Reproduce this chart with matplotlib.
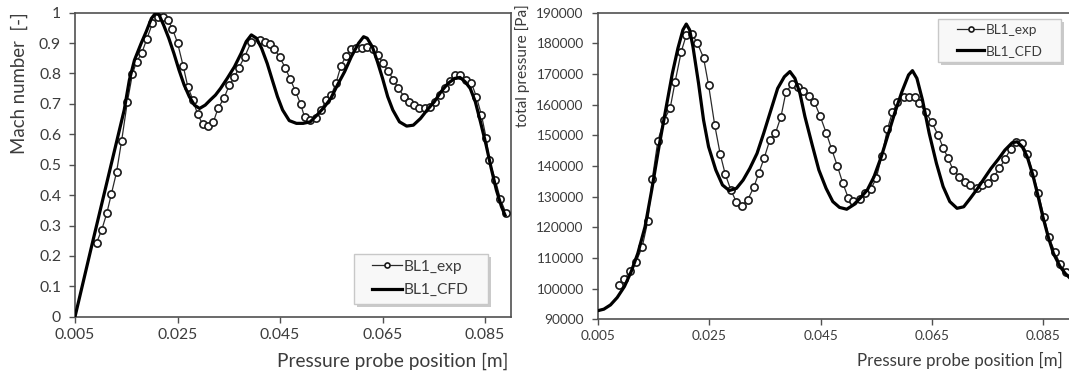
import numpy as np
import matplotlib
matplotlib.use('Agg')
import matplotlib.pyplot as plt
from matplotlib.ticker import FuncFormatter
from matplotlib.patches import Rectangle

# ── Data: Mach number (left) ─────────────────────────────────
mach_exp_x = [0.0092, 0.0102, 0.0112, 0.0121, 0.0131, 0.0141, 0.0152, 0.0162, 0.0170, 0.0180,
              0.0190, 0.0201, 0.0211, 0.0222, 0.0231, 0.0240, 0.0250, 0.0261, 0.0270, 0.0280,
              0.0289, 0.0299, 0.0309, 0.0320, 0.0329, 0.0341, 0.0351, 0.0361, 0.0369, 0.0381,
              0.0394, 0.0411, 0.0421, 0.0431, 0.0439, 0.0449, 0.0460, 0.0470, 0.0480, 0.0490,
              0.0498, 0.0509, 0.0520, 0.0530, 0.0540, 0.0550, 0.0559, 0.0569, 0.0579, 0.0589,
              0.0599, 0.0610, 0.0620, 0.0631, 0.0641, 0.0651, 0.0661, 0.0671, 0.0681, 0.0692,
              0.0702, 0.0712, 0.0722, 0.0732, 0.0742, 0.0752, 0.0762, 0.0772, 0.0782, 0.0792,
              0.0802, 0.0813, 0.0823, 0.0833, 0.0843, 0.0852, 0.0858, 0.0870, 0.0880, 0.0891]
mach_exp_y = [0.243, 0.285, 0.340, 0.404, 0.475, 0.579, 0.705, 0.798, 0.839, 0.866,
              0.913, 0.965, 0.985, 0.987, 0.976, 0.948, 0.901, 0.825, 0.757, 0.713,
              0.667, 0.633, 0.627, 0.641, 0.685, 0.720, 0.762, 0.787, 0.817, 0.855,
              0.905, 0.910, 0.905, 0.896, 0.880, 0.855, 0.819, 0.781, 0.742, 0.700,
              0.656, 0.647, 0.652, 0.680, 0.713, 0.729, 0.768, 0.826, 0.859, 0.879,
              0.885, 0.885, 0.888, 0.879, 0.861, 0.833, 0.809, 0.779, 0.751, 0.724,
              0.707, 0.696, 0.688, 0.685, 0.691, 0.707, 0.729, 0.751, 0.775, 0.795,
              0.795, 0.779, 0.770, 0.724, 0.663, 0.589, 0.515, 0.450, 0.386, 0.340]

mach_cfd_x = [0.0050, 0.0084, 0.0146, 0.0156, 0.0166, 0.0179, 0.0189, 0.0199, 0.0207, 0.0214,
              0.0223, 0.0233, 0.0243, 0.0253, 0.0263, 0.0273, 0.0283, 0.0293, 0.0304, 0.0314,
              0.0324, 0.0334, 0.0347, 0.0361, 0.0374, 0.0384, 0.0394, 0.0404, 0.0414, 0.0425,
              0.0435, 0.0445, 0.0455, 0.0468, 0.0482, 0.0495, 0.0509, 0.0522, 0.0536, 0.0549,
              0.0562, 0.0576, 0.0589, 0.0603, 0.0613, 0.0620, 0.0630, 0.0640, 0.0650, 0.0660,
              0.0670, 0.0683, 0.0697, 0.0710, 0.0724, 0.0737, 0.0751, 0.0764, 0.0778, 0.0791,
              0.0801, 0.0811, 0.0821, 0.0831, 0.0841, 0.0852, 0.0862, 0.0872, 0.0882, 0.0889]
mach_cfd_y = [0.000, 0.243, 0.680, 0.778, 0.844, 0.899, 0.938, 0.981, 0.998, 0.993,
              0.959, 0.916, 0.866, 0.811, 0.762, 0.724, 0.696, 0.685, 0.696, 0.713,
              0.729, 0.751, 0.784, 0.822, 0.866, 0.905, 0.927, 0.916, 0.883, 0.833,
              0.778, 0.724, 0.680, 0.645, 0.636, 0.636, 0.641, 0.663, 0.689, 0.718,
              0.762, 0.806, 0.855, 0.899, 0.921, 0.916, 0.888, 0.839, 0.784, 0.724,
              0.680, 0.641, 0.627, 0.630, 0.652, 0.680, 0.707, 0.740, 0.768, 0.784,
              0.787, 0.773, 0.751, 0.707, 0.641, 0.565, 0.488, 0.417, 0.362, 0.334]

# ── Data: total pressure (right) ─────────────────────────────
p_exp_x = [0.0088, 0.0098, 0.0108, 0.0119, 0.0130, 0.0140, 0.0148, 0.0158, 0.0169, 0.0180,
           0.0189, 0.0200, 0.0209, 0.0220, 0.0229, 0.0240, 0.0249, 0.0260, 0.0270, 0.0279,
           0.0289, 0.0299, 0.0309, 0.0319, 0.0330, 0.0339, 0.0349, 0.0359, 0.0369, 0.0379,
           0.0388, 0.0399, 0.0409, 0.0419, 0.0430, 0.0439, 0.0449, 0.0460, 0.0470, 0.0480,
           0.0490, 0.0500, 0.0509, 0.0520, 0.0529, 0.0540, 0.0550, 0.0560, 0.0570, 0.0579,
           0.0588, 0.0599, 0.0608, 0.0619, 0.0627, 0.0639, 0.0650, 0.0661, 0.0670, 0.0679,
           0.0688, 0.0699, 0.0709, 0.0719, 0.0730, 0.0740, 0.0750, 0.0761, 0.0771, 0.0781,
           0.0791, 0.0800, 0.0812, 0.0821, 0.0831, 0.0841, 0.0851, 0.0860, 0.0871, 0.0880,
           0.0891]
p_exp_y = [101200, 103000, 105900, 108800, 113700, 122100, 135800, 148200, 155000, 158800,
           167500, 177300, 182700, 182900, 180000, 175300, 166400, 153400, 143800, 137300,
           132200, 128200, 127100, 128900, 133000, 137600, 142700, 148500, 150700, 156100,
           164200, 166600, 165700, 164600, 162800, 160800, 156400, 150900, 145500, 140100,
           134400, 129500, 128600, 129100, 131100, 132400, 136000, 143300, 152000, 157500,
           160800, 162600, 162600, 162600, 160400, 157500, 154200, 150100, 146000, 142500,
           138700, 136500, 134900, 133800, 132900, 133800, 134600, 136500, 139200, 142200,
           145500, 147700, 147400, 143900, 137800, 131100, 123500, 116700, 111800, 108000,
           105500]

p_cfd_x = [0.0050, 0.0061, 0.0073, 0.0085, 0.0098, 0.0110, 0.0122, 0.0135, 0.0147, 0.0160,
           0.0172, 0.0184, 0.0194, 0.0203, 0.0209, 0.0215, 0.0221, 0.0231, 0.0240, 0.0249,
           0.0262, 0.0274, 0.0286, 0.0299, 0.0311, 0.0323, 0.0336, 0.0348, 0.0361, 0.0373,
           0.0385, 0.0395, 0.0404, 0.0413, 0.0422, 0.0435, 0.0447, 0.0460, 0.0472, 0.0484,
           0.0497, 0.0509, 0.0521, 0.0534, 0.0546, 0.0559, 0.0571, 0.0583, 0.0596, 0.0608,
           0.0615, 0.0623, 0.0633, 0.0645, 0.0658, 0.0670, 0.0682, 0.0695, 0.0707, 0.0719,
           0.0732, 0.0744, 0.0756, 0.0769, 0.0781, 0.0794, 0.0803, 0.0812, 0.0821, 0.0831,
           0.0840, 0.0849, 0.0859, 0.0868, 0.0880, 0.0889, 0.0898]
p_cfd_y = [92800, 93300, 94700, 97100, 100700, 105500, 111500, 120200, 132200, 146300,
           158300, 170200, 178400, 184400, 186300, 184400, 178900, 167000, 155000, 146300,
           138700, 133800, 132000, 132700, 135400, 139200, 144100, 150700, 158300, 165300,
           169100, 170800, 168600, 163700, 156100, 146900, 138700, 132700, 128400, 126500,
           125900, 127300, 129500, 132200, 136500, 143000, 150100, 157200, 164200, 169700,
           171100, 168600, 161500, 150700, 140900, 133300, 128400, 126200, 126700, 129500,
           132700, 136000, 139200, 142200, 145200, 147600, 147900, 146300, 143000, 137100,
           130500, 123500, 116700, 111500, 107200, 105000, 103400]

x_ticks = [0.005, 0.025, 0.045, 0.065, 0.085]
mach_ticks = [0, 0.1, 0.2, 0.3, 0.4, 0.5, 0.6, 0.7, 0.8, 0.9, 1]
p_ticks = [90000, 100000, 110000, 120000, 130000, 140000, 150000, 160000, 170000, 180000, 190000]
x_label = 'Pressure probe position [m]'

# ── Style ─────────────────────────────────────────────────────
plt.rcParams['font.family'] = ['Lato', 'DejaVu Sans']
TXT = '#3c3c3c'
SPINE = '#505050'
W, H = 1069, 373

fig = plt.figure(figsize=(W / 100, H / 100), dpi=100)
renderer = fig.canvas.get_renderer()
ax1 = fig.add_axes([75 / W, 1 - 316.7 / H, 435.7 / W, 304 / H])
ax2 = fig.add_axes([597.7 / W, 1 - 319.3 / H, (W - 597.7) / W, 306.6 / H])


def fit_size(text, width_px, ref=10):
    # font size that makes `text` about width_px wide
    t = fig.text(0, 0, text, fontsize=ref)
    w = t.get_window_extent(renderer).width
    t.remove()
    return ref * width_px / w


def px(x, y):
    # figure pixel (from top-left) -> figure fraction
    return x / W, 1 - y / H


def style_axis(ax, fs):
    for s in ax.spines.values():
        s.set_color(SPINE)
        s.set_linewidth(1.2)
    ax.tick_params(direction='out', length=4, width=1, color=SPINE,
                   labelcolor=TXT, labelsize=fs)
    ax.tick_params(axis='y', pad=6)
    ax.tick_params(axis='x', pad=4)
    ax.set_xticks(x_ticks)
    ax.xaxis.set_major_formatter(FuncFormatter(lambda v, p: f'{v:.3f}'))


def add_legend(ax, box, handle_x, rows_y, handle_px, text_px):
    # box = (x0, y0, x1, y1) in figure pixels, drawn by hand with a drop shadow
    x0, y0, x1, y1 = box
    fs = fit_size('BL1_CFD', text_px)
    fs_px = fs * 100 / 72
    t = fig.text(0, 0, 'BL1_CFD', fontsize=fs)
    h = t.get_window_extent(renderer).height
    t.remove()
    gap = rows_y[1] - rows_y[0]
    fx0, fy1 = px(x0, y1)
    fx1, fy0 = px(x1, y0)
    ax.add_patch(Rectangle((fx0 + 3 / W, fy1 - 3 / H), fx1 - fx0, fy0 - fy1, transform=fig.transFigure,
                           facecolor='#a8a8a8', edgecolor='none', alpha=0.6, clip_on=False, zorder=6))
    ax.add_patch(Rectangle((fx0, fy1), fx1 - fx0, fy0 - fy1, transform=fig.transFigure,
                           facecolor='#f8f8f8', edgecolor='#c8c8c8', lw=1.0, clip_on=False, zorder=6.1))
    leg = ax.legend(loc='center left', bbox_to_anchor=px(handle_x, sum(rows_y) / 2),
                    bbox_transform=fig.transFigure, fontsize=fs, frameon=False,
                    handlelength=handle_px / fs_px, handletextpad=0.1, markerscale=0.7,
                    borderpad=0, borderaxespad=0, labelspacing=(gap - h) / fs_px)
    leg.set_zorder(7)
    for tx in leg.get_texts():
        tx.set_color(TXT)


# ── Left: Mach number ────────────────────────────────────────
ax1.plot(mach_exp_x, mach_exp_y, '-o', color='#2a2a2a', lw=0.9, ms=5.2,
         mfc='white', mec='#1a1a1a', mew=1.2, label='BL1_exp', zorder=3)
ax1.plot(mach_cfd_x, mach_cfd_y, '-', color='black', lw=2.3, label='BL1_CFD', zorder=4)
ax1.set_xlim(0.005, 0.090)
ax1.set_ylim(0, 1)
style_axis(ax1, fit_size('0.005', 40))
ax1.set_yticks(mach_ticks)
ax1.yaxis.set_major_formatter(FuncFormatter(lambda v, p: f'{v:g}'))
fig.text(*px(508, 361), x_label, ha='right', va='center',
         fontsize=fit_size(x_label, 233), color=TXT)
fig.text(*px(19, 12), 'Mach number  [-]', rotation=90, ha='center', va='top',
         fontsize=fit_size('Mach number  [-]', 142), color=TXT)
add_legend(ax1, (354, 254, 488, 304), 372, (266.7, 290.0), 30, 65)

# ── Right: total pressure ────────────────────────────────────
ax2.plot(p_exp_x, p_exp_y, '-o', color='#2a2a2a', lw=0.9, ms=5.2,
         mfc='white', mec='#1a1a1a', mew=1.2, label='BL1_exp', zorder=3)
ax2.plot(p_cfd_x, p_cfd_y, '-', color='black', lw=2.3, label='BL1_CFD', zorder=4)
ax2.set_xlim(0.005, 0.0896)
ax2.set_ylim(90000, 190000)
style_axis(ax2, fit_size('190000', 47))
ax2.spines['right'].set_visible(False)
ax2.set_yticks(p_ticks)
fig.text(*px(1063, 360), x_label, ha='right', va='center',
         fontsize=fit_size(x_label, 206), color=TXT)
fig.text(*px(523, 4), 'total pressure [Pa]', rotation=90, ha='center', va='top',
         fontsize=fit_size('total pressure [Pa]', 123), color=TXT)
add_legend(ax2, (938, 19, 1061, 62), 957, (30.0, 50.7), 27, 57)

plt.savefig('out.png', dpi=100)
